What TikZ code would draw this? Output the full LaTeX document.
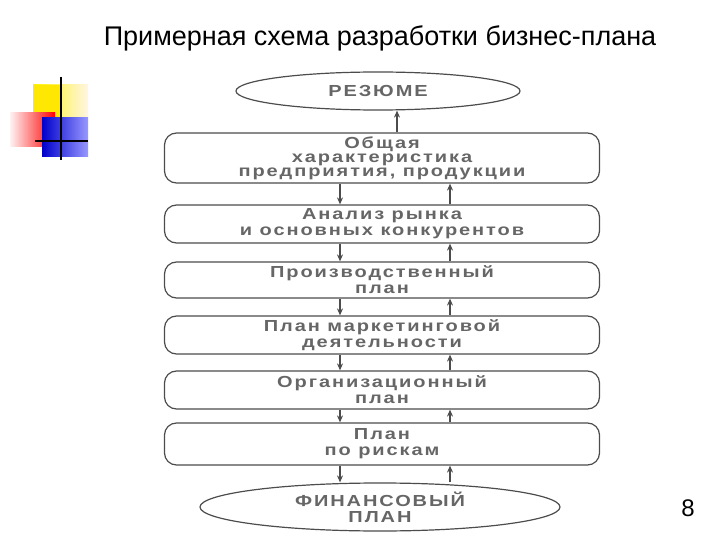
\documentclass[tikz,border=0pt]{standalone}
\usepackage{fontspec}
\setmainfont{Liberation Sans}
\newfontfamily\boxfont[LetterSpace=12,FakeStretch=1.25]{Liberation Sans}
\usetikzlibrary{shapes.geometric,arrows.meta}
\begin{document}
\begin{tikzpicture}[x=1pt,y=-1pt,
  box/.style={draw=black!70,line width=1.2pt,rounded corners=12pt,minimum width=435pt,inner sep=1pt,align=center,font=\boxfont\bfseries\fontsize{16}{14}\selectfont,text=black!60},
  oval/.style={draw=black!70,line width=1.2pt,ellipse,inner sep=0pt,align=center,font=\boxfont\bfseries\fontsize{16}{16}\selectfont,text=black!60},
  arr/.style={-{Stealth[length=7pt,width=6pt]},black!70,line width=1.4pt}]
\useasboundingbox (0,0) rectangle (720,540);
\node[font=\fontsize{27}{29}\selectfont] (title) at (380,38) {Примерная схема разработки бизнес-плана};
% decoration
\shade[left color=yellow!90!orange,right color=yellow!20!orange!10] (33,85) rectangle (88,120);
\fill[yellow!90!orange] (33,85) rectangle (61,120);
\shade[left color=red!5,right color=red] (10,113) rectangle (55,147);
\shade[left color=blue!80!black,right color=blue!40] (42,118) rectangle (88,157);
\draw[line width=2pt] (61,77) -- (61,160);
\draw[line width=2pt] (35,141) -- (88,141);
% boxes
\node[oval,minimum width=284pt,minimum height=38pt] (r) at (378,91) {РЕЗЮМЕ};
\node[box,minimum height=50pt] (b1) at (382,158) {Общая\\характеристика\\предприятия, продукции};
\node[box,minimum height=38pt] (b2) at (382,224) {Анализ рынка\\[2pt]и основных конкурентов};
\node[box,minimum height=36pt] (b3) at (382,280) {Производственный\\[2pt]план};
\node[box,minimum height=38pt] (b4) at (382,335) {План маркетинговой\\[2pt]деятельности};
\node[box,minimum height=38pt] (b5) at (382,390) {Организационный\\[2pt]план};
\node[box,minimum height=42pt] (b6) at (382,444) {План\\[2pt]по рискам};
\node[oval,minimum width=360pt,minimum height=48pt] (f) at (380,507) {ФИНАНСОВЫЙ\\ПЛАН};
\node[font=\fontsize{24}{26}\selectfont] (n) at (688,508) {8};
% arrows
\draw[arr] (b1.north -| 397,0) -- (r.south -| 397,0);
\foreach \a/\b in {b1/b2,b2/b3,b3/b4,b4/b5,b5/b6,b6/f}{
  \draw[arr] (\a.south -| 340,0) -- (\b.north -| 340,0);
  \draw[arr] (\b.north -| 450,0) -- (\a.south -| 450,0);
}
\end{tikzpicture}
\end{document}
